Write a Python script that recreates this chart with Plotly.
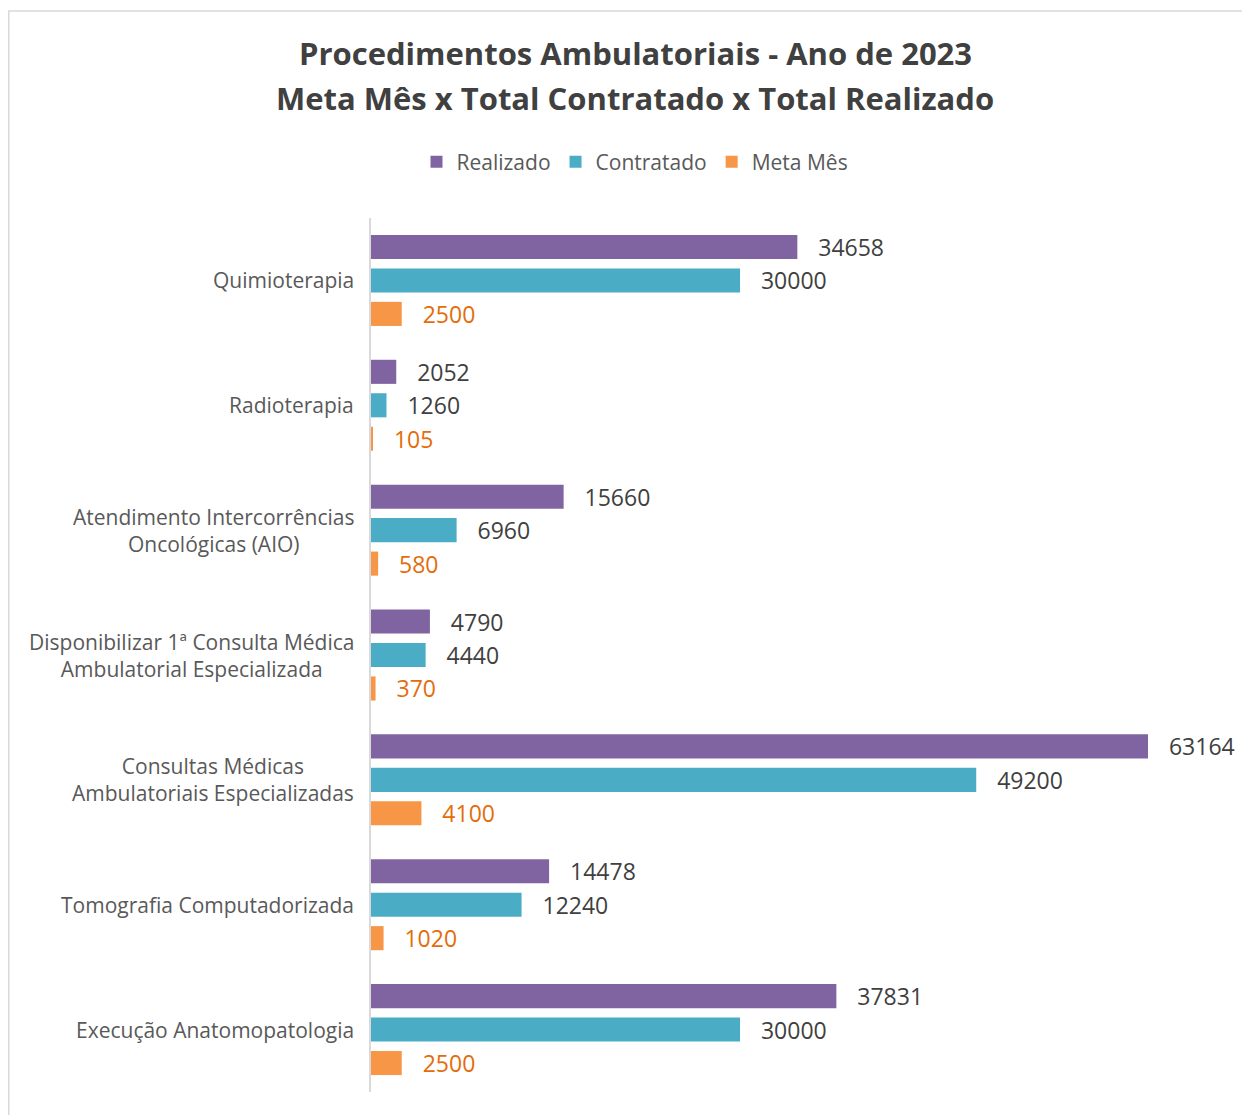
import plotly.graph_objects as go

categories = [
    "Quimioterapia",
    "Radioterapia",
    "Atendimento Intercorrências<br>Oncológicas (AIO)",
    "Disponibilizar 1ª Consulta Médica<br>Ambulatorial Especializada",
    "Consultas Médicas<br>Ambulatoriais Especializadas",
    "Tomografia Computadorizada",
    "Execução Anatomopatologia",
]
realizado = [34658, 2052, 15660, 4790, 63164, 14478, 37831]
contratado = [30000, 1260, 6960, 4440, 49200, 12240, 30000]
meta_mes = [2500, 105, 580, 370, 4100, 1020, 2500]

title_lines = [
    "Procedimentos Ambulatoriais - Ano de 2023",
    "Meta Mês x Total Contratado x Total Realizado",
]

FONT = "Open Sans"
pad = "\u00a0\u00a0\u00a0"

series = [
    ("Realizado", realizado, "#8064A2", "#404040"),
    ("Contratado", contratado, "#4BACC6", "#404040"),
    ("Meta Mês", meta_mes, "#F79646", "#E46C0A"),
]

W, H = 1242, 1107
L, R, T, B = 363, 20, 210, 23
pw = W - L - R
ph = H - T - B


def px_x(x):
    return (x - L) / pw


def px_y(y):
    return (H - B - y) / ph


fig = go.Figure()
for name, vals, color, tcolor in series:
    fig.add_trace(go.Bar(
        name=name, y=categories, x=vals, orientation="h",
        marker=dict(color=color, line=dict(width=0)),
        text=[str(v) for v in vals], texttemplate=pad + "%{text}",
        textposition="outside", constraintext="none", cliponaxis=False,
        textfont=dict(family=FONT, size=23, color=tcolor),
    ))

for c in categories:
    fig.add_annotation(
        x=0, xref="paper", y=c, yref="y", xanchor="right", xshift=-15,
        text=c, showarrow=False, align="center",
        font=dict(family=FONT, size=21, color="#595959"),
    )

for i, (line, ypix) in enumerate(zip(title_lines, [45, 90])):
    fig.add_annotation(
        x=px_x(627), xref="paper", y=px_y(ypix), yref="paper",
        xanchor="center", yanchor="middle", showarrow=False,
        text="<b>" + line + "</b>",
        font=dict(family=FONT, size=31, color="#404040"),
    )

fig.add_shape(
    type="rect", xref="paper", yref="paper",
    x0=px_x(0.75), x1=px_x(1260),
    y0=px_y(1120), y1=px_y(3),
    line=dict(color="#D9D9D9", width=1.5), fillcolor="rgba(0,0,0,0)", layer="below",
)

fig.update_layout(
    width=W, height=H,
    margin=dict(l=L, r=R, t=T, b=B),
    paper_bgcolor="white", plot_bgcolor="white",
    barmode="group", bargap=0.196, bargroupgap=0.28,
    legend=dict(
        orientation="h", xref="container", x=627 / W, xanchor="center",
        yref="container", y=1 - 154 / H, yanchor="middle",
        font=dict(family=FONT, size=21, color="#595959"),
        itemwidth=30, tracegroupgap=0,
    ),
    xaxis=dict(range=[0, 69830], visible=False, showgrid=False),
    yaxis=dict(autorange="reversed", showticklabels=False, showgrid=False,
               showline=True, linecolor="#D9D9D9", linewidth=2, ticks=""),
)

fig.write_html("out.html")
